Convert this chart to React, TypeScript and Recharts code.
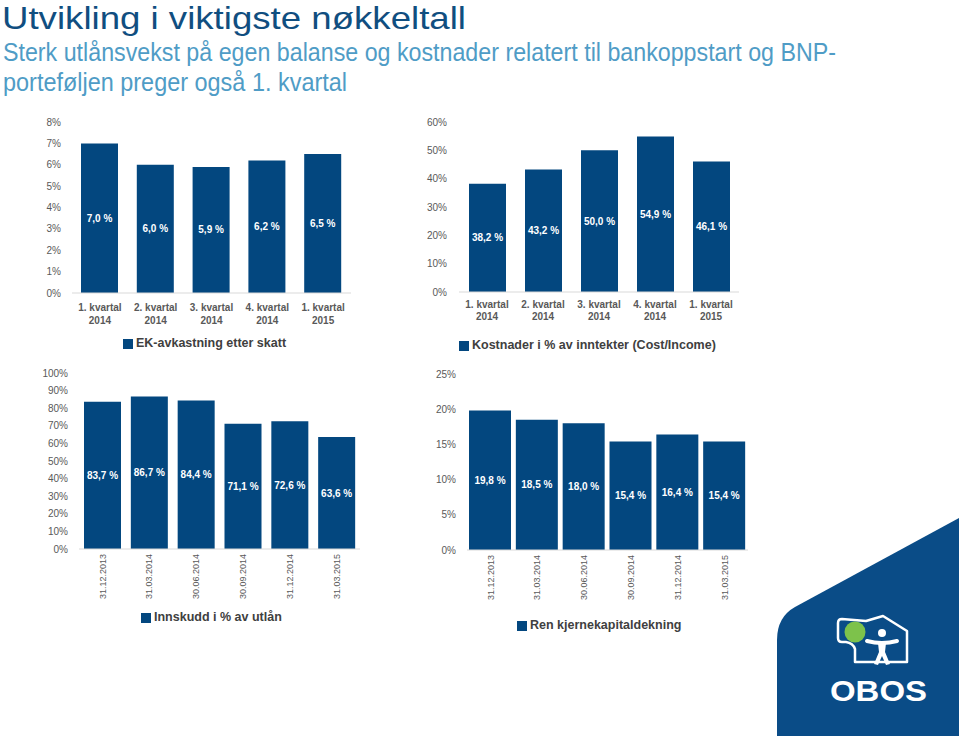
import { BarChart, Bar, XAxis, YAxis, LabelList, Legend } from 'recharts'

// top row: quarterly figures
const quarters = ['1. kvartal 2014', '2. kvartal 2014', '3. kvartal 2014', '4. kvartal 2014', '1. kvartal 2015']
const ekAvkastning = [7.0, 6.0, 5.9, 6.2, 6.5]
const costIncome = [38.2, 43.2, 50.0, 54.9, 46.1]

// bottom row: balance dates
const dates = ['31.12.2013', '31.03.2014', '30.06.2014', '30.09.2014', '31.12.2014', '31.03.2015']
const innskudd = [83.7, 86.7, 84.4, 71.1, 72.6, 63.6]
const kjernekapital = [19.8, 18.5, 18.0, 15.4, 16.4, 15.4]

const ekTicks = [0, 1, 2, 3, 4, 5, 6, 7, 8]
const ciTicks = [0, 10, 20, 30, 40, 50, 60]
const innTicks = [0, 10, 20, 30, 40, 50, 60, 70, 80, 90, 100]
const kkTicks = [0, 5, 10, 15, 20, 25]

const BLUE = '#03477f'
const GREY = '#595959'
const FONT = '"Liberation Sans", Arial, sans-serif'

const fmtPct = (v: any) => `${Number(v).toFixed(1).replace('.', ',')} %`

function toRows(cats: string[], vals: number[]) {
  return cats.map((c, i) => ({ category: c, value: vals[i] }))
}

// eslint-disable-next-line @typescript-eslint/no-explicit-any
function QuarterTick({ x, y, payload, d1, d2 }: any) {
  const s = String(payload.value)
  const i = s.lastIndexOf(' ')
  return (
    <text x={x} y={y} textAnchor="middle" fill={GREY} fontSize={10} fontWeight="bold" fontFamily={FONT}>
      <tspan x={x} dy={d1}>{s.slice(0, i)}</tspan>
      <tspan x={x} dy={d2 - d1}>{s.slice(i + 1)}</tspan>
    </text>
  )
}

// eslint-disable-next-line @typescript-eslint/no-explicit-any
function DateTick({ x, y, payload }: any) {
  const ty = y + 5
  return (
    <text
      x={x}
      y={ty}
      dy="0.35em"
      transform={`rotate(-90, ${x}, ${ty})`}
      textAnchor="end"
      fill={GREY}
      fontSize={9}
      fontFamily={FONT}
    >
      {payload.value}
    </text>
  )
}

// value label in the middle of the bar, kept on one line
// eslint-disable-next-line @typescript-eslint/no-explicit-any
function ValueLabel({ x, y, width, height, value }: any) {
  return (
    <text
      x={Number(x) + Number(width) / 2}
      y={Number(y) + Number(height) / 2}
      dy="0.35em"
      textAnchor="middle"
      fill="#ffffff"
      fontSize={10}
      fontWeight="bold"
      fontFamily={FONT}
    >
      {fmtPct(value)}
    </text>
  )
}

// eslint-disable-next-line @typescript-eslint/no-explicit-any
function LegendBox({ payload }: any) {
  return (
    <div style={{ display: 'flex', alignItems: 'center', height: 15, whiteSpace: 'nowrap' }}>
      {(payload || []).map((e: any) => (
        <span key={e.value} style={{ display: 'flex', alignItems: 'center' }}>
          <span style={{ width: 10, height: 10, background: BLUE, marginRight: 3, display: 'inline-block' }} />
          <span style={{ fontFamily: FONT, fontSize: 12.5, fontWeight: 'bold', color: '#404040', lineHeight: '15px' }}>
            {e.value}
          </span>
        </span>
      ))}
    </div>
  )
}

interface PanelProps {
  left: number
  top: number
  width: number
  height: number
  margin: { top: number; right: number; bottom: number; left: number }
  yWidth: number
  yGap: number
  xHeight: number
  rows: { category: string; value: number }[]
  ticks: number[]
  barSize: number
  name: string
  rotated?: boolean
  d1?: number
  d2?: number
  legendAt: { left: number; top: number }
}

function Panel(p: PanelProps) {
  const max = p.ticks[p.ticks.length - 1]
  return (
    <div style={{ position: 'absolute', left: p.left, top: p.top }}>
      <BarChart width={p.width} height={p.height} data={p.rows} margin={p.margin}>
        <XAxis
          dataKey="category"
          height={p.xHeight}
          interval={0}
          tickSize={0}
          tickMargin={0}
          tickLine={false}
          axisLine={{ stroke: '#d9d9d9' }}
          tick={(tp: any) =>
            p.rotated ? <DateTick {...tp} /> : <QuarterTick {...tp} d1={p.d1} d2={p.d2} />
          }
        />
        <YAxis
          type="number"
          domain={[0, max]}
          ticks={p.ticks}
          interval={0}
          width={p.yWidth}
          tickSize={0}
          tickMargin={p.yGap}
          axisLine={false}
          tickLine={false}
          tickFormatter={(v: number) => `${v}%`}
          tick={{ fill: GREY, fontSize: 10, fontFamily: FONT }}
        />
        <Legend
          layout="horizontal"
          verticalAlign="middle"
          align="center"
          content={<LegendBox />}
          wrapperStyle={{ left: p.legendAt.left, top: p.legendAt.top, width: 'auto', height: 15 }}
        />
        <Bar dataKey="value" name={p.name} fill={BLUE} barSize={p.barSize} isAnimationActive={false}>
          <LabelList dataKey="value" content={<ValueLabel />} />
        </Bar>
      </BarChart>
    </div>
  )
}

function Logo() {
  return (
    <svg width={199} height={236} style={{ position: 'absolute', left: 760, top: 500 }}>
      <g transform="translate(-760,-500)">
        <path d="M 959 518 L 795 607 Q 777 617 777 640 L 777 736 L 959 736 Z" fill="#0a4c87" />
        <path
          d="M 842 619 L 866 621 L 883 616 L 907 631 L 907 662 L 855 662 L 855 649 Q 853 643 846 642 L 842 642 Q 838 642 838 638 L 838 623 Q 838 619 842 619 Z"
          fill="none"
          stroke="#ffffff"
          strokeWidth={2.5}
          strokeLinejoin="round"
        />
        <circle cx={855} cy={632} r={10.5} fill="#7dc24b" />
        <circle cx={882} cy={633} r={4} fill="#ffffff" />
        <path d="M 867 641 Q 882 645 897 641" stroke="#ffffff" strokeWidth={4} strokeLinecap="round" fill="none" />
        <path d="M 878 643 L 886 643 L 885 652 L 890 664 L 886 665 L 882 656 L 878 665 L 874 664 L 879 652 Z" fill="#ffffff" />
        <text x={830} y={701} fill="#ffffff" fontFamily={FONT} fontWeight="bold" fontSize={30} textLength={97} lengthAdjust="spacingAndGlyphs">
          OBOS
        </text>
      </g>
    </svg>
  )
}

export default function App() {
  return (
    <div style={{ position: 'absolute', left: 0, top: 0, width: 959, height: 736, background: '#ffffff', overflow: 'hidden', fontFamily: FONT }}>
      <svg width={959} height={100} style={{ position: 'absolute', left: 0, top: 0, overflow: 'visible' }}>
        <text x={2} y={29} fill="#104e80" fontFamily={FONT} fontSize={32} textLength={464} lengthAdjust="spacingAndGlyphs">
          Utvikling i viktigste nøkkeltall
        </text>
        <text x={3} y={61} fill="#4f9cc6" fontFamily={FONT} fontSize={26} textLength={833} lengthAdjust="spacingAndGlyphs">
          Sterk utlånsvekst på egen balanse og kostnader relatert til bankoppstart og BNP-
        </text>
        <text x={3} y={91} fill="#4f9cc6" fontFamily={FONT} fontSize={26} textLength={344} lengthAdjust="spacingAndGlyphs">
          porteføljen preger også 1. kvartal
        </text>
      </svg>

      <Panel
        left={0}
        top={110}
        width={360}
        height={240}
        margin={{ top: 12, right: 9, bottom: 27, left: 12 }}
        yWidth={60}
        yGap={11}
        xHeight={30}
        rows={toRows(quarters, ekAvkastning)}
        ticks={ekTicks}
        barSize={37}
        name="EK-avkastning etter skatt"
        d1={18}
        d2={31}
        legendAt={{ left: 123, top: 226 }}
      />
      <Panel
        left={390}
        top={110}
        width={360}
        height={240}
        margin={{ top: 12, right: 11, bottom: 28, left: 9 }}
        yWidth={60}
        yGap={12}
        xHeight={30}
        rows={toRows(quarters, costIncome)}
        ticks={ciTicks}
        barSize={37}
        name="Kostnader i % av inntekter (Cost/Income)"
        d1={16}
        d2={28}
        legendAt={{ left: 69, top: 228 }}
      />
      <Panel
        left={0}
        top={360}
        width={380}
        height={280}
        margin={{ top: 13, right: 20, bottom: 31, left: 11 }}
        yWidth={68}
        yGap={11}
        xHeight={60}
        rows={toRows(dates, innskudd)}
        ticks={innTicks}
        barSize={37}
        name="Innskudd i % av utlån"
        rotated
        legendAt={{ left: 141, top: 250 }}
      />
      <Panel
        left={400}
        top={360}
        width={360}
        height={280}
        margin={{ top: 14, right: 12, bottom: 30, left: 11 }}
        yWidth={56}
        yGap={11}
        xHeight={60}
        rows={toRows(dates, kjernekapital)}
        ticks={kkTicks}
        barSize={42}
        name="Ren kjernekapitaldekning"
        rotated
        legendAt={{ left: 117, top: 258 }}
      />

      <Logo />
    </div>
  )
}
